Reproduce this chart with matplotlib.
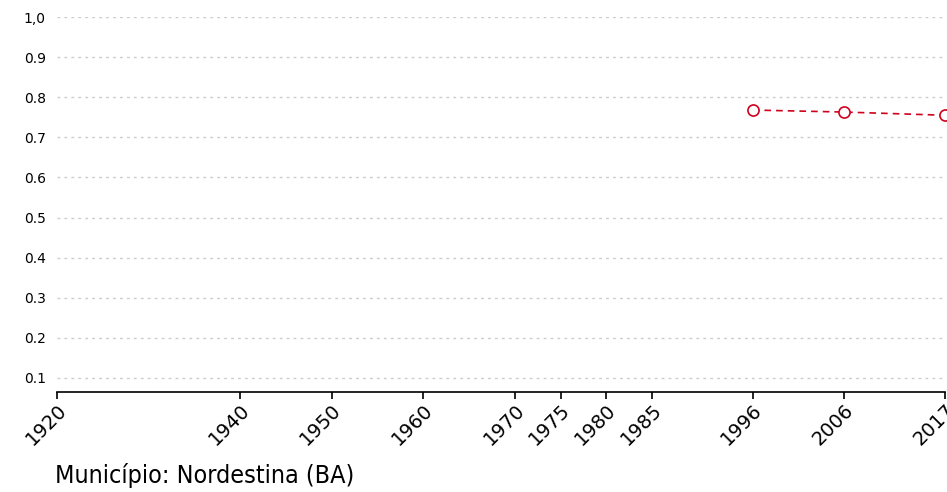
import matplotlib
matplotlib.use("Agg")
import matplotlib.pyplot as plt
import matplotlib.transforms as mtransforms

years = [1996, 2006, 2017]
values = [0.768, 0.763, 0.755]
xticks = [1920, 1940, 1950, 1960, 1970, 1975, 1980, 1985, 1996, 2006, 2017]
yticks = [0.1, 0.2, 0.3, 0.4, 0.5, 0.6, 0.7, 0.8, 0.9, 1.0]
ylabels = ["0.1", "0.2", "0.3", "0.4", "0.5", "0.6", "0.7", "0.8", "0.9", "1,0"]
title = "Município: Nordestina (BA)"

fig = plt.figure(figsize=(9.47, 4.92), dpi=100)
ax = fig.add_axes([57/947, 1-392/492, (945-57)/947, (392-17)/492])
ax.plot(years, values, linestyle=(0, (4, 3)), color="#d0021b", linewidth=1.2,
        marker="o", markersize=8, markerfacecolor="white", markeredgecolor="#d0021b",
        markeredgewidth=1.2, clip_on=False, zorder=3)
ax.set_xlim(1920, 2017)
ax.set_ylim(0.065, 1.0)
ax.set_xticks(xticks)
ax.set_xticklabels([str(t) for t in xticks], rotation=45, ha="right", rotation_mode="anchor", fontsize=14)
offset = mtransforms.ScaledTranslation(-3/100, 1/100, fig.dpi_scale_trans)
for lbl in ax.get_xticklabels():
    lbl.set_transform(lbl.get_transform() + offset)
ax.set_yticks(yticks)
ax.set_yticklabels(ylabels, fontsize=10)
ax.tick_params(axis="y", length=0, pad=8)
ax.tick_params(axis="x", length=5, width=1.2, pad=1)
for s in ["top", "right", "left"]:
    ax.spines[s].set_visible(False)
ax.spines["bottom"].set_linewidth(1.2)
ax.yaxis.grid(True, linestyle=(0, (2, 3)), color="#cccccc", linewidth=1)
ax.set_axisbelow(True)
fig.text(55/947, 1-476/492, title, fontsize=18, fontfamily="DejaVu Sans", fontstretch="condensed",
         va="center", ha="left")
fig.savefig("out.png", dpi=100)
